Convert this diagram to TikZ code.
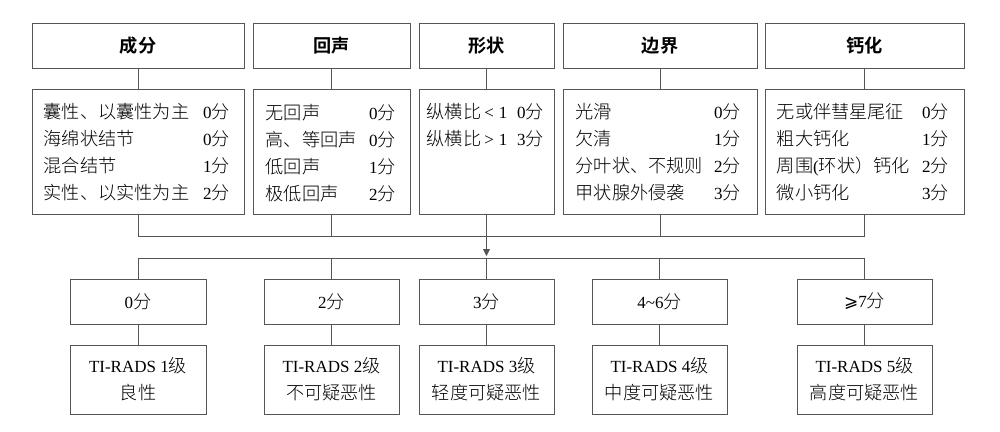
\documentclass[tikz,border=0pt]{standalone}
\usepackage{fontspec}
\setmainfont{Liberation Serif}
\newfontfamily\cjk{Noto Sans CJK SC}[Scale=1.07,UprightFont=* Light,BoldFont=* Bold]
\newfontfamily\djv{DejaVu Sans}
\usetikzlibrary{arrows.meta}
\newcommand\zh[1]{{\cjk #1}}
\newcommand\fen{\zh{分}}
\newcommand\sepf{\hskip 0pt plus 1fill\relax}
\definecolor{linec}{HTML}{555555}
\begin{document}
\begin{tikzpicture}[x=1pt,y=-1pt,
  box/.style={draw=linec,line width=0.8pt,inner sep=0pt,minimum height=45pt,
    font=\fontsize{17}{27}\selectfont,align=center},
  hbox/.style={box,font=\fontsize{17}{27}\selectfont\cjk\bfseries},
  listtext/.style={anchor=north west,inner sep=0pt,align=left,
    font=\fontsize{17}{27}\selectfont},
  conn/.style={draw=linec,line width=0.8pt},
  arr/.style={conn,-{Triangle[length=7pt,width=7pt]}}]
\useasboundingbox (0,0) rectangle (1000,431);
% header row
\node[hbox,minimum width=212pt] (A1) at (138,45.5) {成分};
\node[hbox,minimum width=157pt] (B1) at (331.5,45.5) {回声};
\node[hbox,minimum width=135pt] (C1) at (486.5,45.5) {形状};
\node[hbox,minimum width=194pt] (D1) at (660,45.5) {边界};
\node[hbox,minimum width=199pt] (E1) at (864.5,45.5) {钙化};
% criteria row
\node[box,minimum width=212pt,minimum height=125pt] (A2) at (138,151.5) {};
\node[box,minimum width=157pt,minimum height=125pt] (B2) at (331.5,151.5) {};
\node[box,minimum width=135pt,minimum height=125pt] (C2) at (486.5,151.5) {};
\node[box,minimum width=194pt,minimum height=125pt] (D2) at (660,151.5) {};
\node[box,minimum width=199pt,minimum height=125pt] (E2) at (864.5,151.5) {};
\node[listtext,text width=186pt] (At) at ([shift={(12pt,-15pt)}]A2.north west)
 {\zh{囊性、以囊性为主}\sepf 0\fen\\
  \zh{海绵状结节}\sepf 0\fen\\
  \zh{混合结节}\sepf 1\fen\\
  \zh{实性、以实性为主}\sepf 2\fen};
\node[listtext,text width=130pt] (Bt) at ([shift={(13pt,-15pt)}]B2.north west)
 {\zh{无回声}\sepf 0\fen\\
  \zh{高、等回声}\sepf 0\fen\\
  \zh{低回声}\sepf 1\fen\\
  \zh{极低回声}\sepf 2\fen};
\node[listtext,text width=117pt] (Ct) at ([shift={(8pt,-15pt)}]C2.north west)
 {\zh{纵横比}\hspace{3pt}<\hspace{5pt}1\sepf 0\fen\\
  \zh{纵横比}\hspace{3pt}>\hspace{5pt}1\sepf 3\fen};
\node[listtext,text width=165pt] (Dt) at ([shift={(13pt,-15pt)}]D2.north west)
 {\zh{光滑}\sepf 0\fen\\
  \zh{欠清}\sepf 1\fen\\
  \zh{分叶状、不规则}\sepf 2\fen\\
  \zh{甲状腺外侵袭}\sepf 3\fen};
\node[listtext,text width=172pt] (Et) at ([shift={(12pt,-15pt)}]E2.north west)
 {\zh{无或伴彗星尾征}\sepf 0\fen\\
  \zh{粗大钙化}\sepf 1\fen\\
  \zh{周围}(\zh{环状）钙化}\sepf 2\fen\\
  \zh{微小钙化}\sepf 3\fen};
% score row
\node[box,minimum width=136pt] (P1) at (138,301.5) {0\fen};
\node[box,minimum width=135pt] (P2) at (331.5,301.5) {2\fen};
\node[box,minimum width=135pt] (P3) at (486.5,301.5) {3\fen};
\node[box,minimum width=135pt] (P4) at (659.5,301.5) {4\textasciitilde 6\fen};
\node[box,minimum width=135pt] (P5) at (864.5,301.5) {{\djv ⩾}7\fen};
% grade row
\node[box,minimum width=136pt,minimum height=69pt] (Q1) at (138,379.5) {TI-RADS 1\zh{级}\\\zh{良性}};
\node[box,minimum width=135pt,minimum height=69pt] (Q2) at (331.5,379.5) {TI-RADS 2\zh{级}\\\zh{不可疑恶性}};
\node[box,minimum width=135pt,minimum height=69pt] (Q3) at (486.5,379.5) {TI-RADS 3\zh{级}\\\zh{轻度可疑恶性}};
\node[box,minimum width=135pt,minimum height=69pt] (Q4) at (659.5,379.5) {TI-RADS 4\zh{级}\\\zh{中度可疑恶性}};
\node[box,minimum width=135pt,minimum height=69pt] (Q5) at (864.5,379.5) {TI-RADS 5\zh{级}\\\zh{高度可疑恶性}};
% connectors
\coordinate (busTop) at (0,236);
\coordinate (busBot) at (0,258);
\foreach \n in {A,B,C,D,E} \draw[conn] (\n1) -- (\n2);
\foreach \n in {A,B,D,E} \draw[conn] (\n2.south) -- (\n2.south |- busTop);
\draw[conn] (A2.south |- busTop) -- (E2.south |- busTop);
\draw[arr] (C2.south) -- ([yshift=2pt]C2.south |- busBot);
\draw[conn] (P1.north |- busBot) -- (P5.north |- busBot);
\foreach \n in {1,...,5} {
  \draw[conn] (P\n.north |- busBot) -- (P\n.north);
  \draw[conn] (P\n) -- (Q\n);
}
\end{tikzpicture}
\end{document}
